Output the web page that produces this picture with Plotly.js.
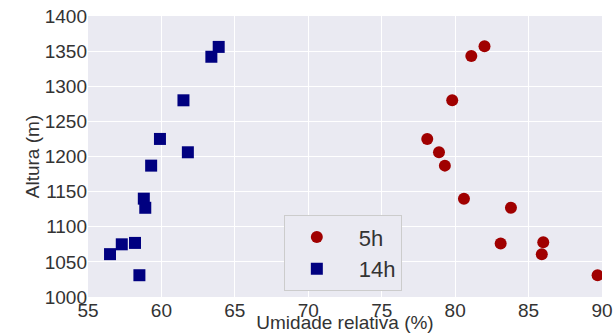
<!DOCTYPE html>
<html>
<head>
<meta charset="utf-8">
<script src="https://cdn.plot.ly/plotly-3.0.1.min.js"></script>
<style>html,body{margin:0;padding:0;background:#fff;}#chart{width:613px;height:333px;}</style>
</head>
<body>
<div id="chart"></div>
<script>
const seriesNames = ["5h", "14h"];
const humidity5h = [82.0, 81.1, 79.8, 78.1, 78.9, 79.3, 80.6, 83.8, 83.1, 86.0, 85.9, 89.7];
const altitude5h = [1357, 1343, 1280, 1225, 1206, 1187, 1140, 1127, 1076, 1078, 1061, 1031];
const humidity14h = [63.9, 63.4, 61.5, 59.9, 61.8, 59.3, 58.8, 58.9, 57.3, 58.2, 56.5, 58.5];
const altitude14h = [1356, 1342, 1280, 1225, 1206, 1187, 1140, 1127, 1075, 1077, 1061, 1031];
const xTicks = [55, 60, 65, 70, 75, 80, 85, 90];
const yTicks = [1000, 1050, 1100, 1150, 1200, 1250, 1300, 1350, 1400];

const font = "Liberation Sans, Arial, sans-serif";
const traces = [
  {x: humidity5h, y: altitude5h, name: seriesNames[0], type: "scatter", mode: "markers",
   marker: {symbol: "circle", size: 12, color: "#a00000", line: {width: 0}}},
  {x: humidity14h, y: altitude14h, name: seriesNames[1], type: "scatter", mode: "markers",
   marker: {symbol: "square", size: 12, color: "#000080", line: {width: 0}}}
];
const layout = {
  width: 613, height: 333,
  margin: {l: 88, r: 11, t: 16, b: 36, pad: 0},
  paper_bgcolor: "#ffffff", plot_bgcolor: "#eaeaf2",
  font: {family: font, color: "#333333", size: 19},
  xaxis: {range: [55, 90], tickvals: xTicks, ticktext: xTicks.map(String),
    showgrid: true, gridcolor: "#ffffff", gridwidth: 1, zeroline: false, showline: false,
    ticks: "", tickfont: {size: 19, color: "#333333"},
    title: {text: "Umidade relativa (%)", font: {size: 19, color: "#333333"}, standoff: 1},
    automargin: false},
  yaxis: {range: [1000, 1400], tickvals: yTicks, ticktext: yTicks.map(String),
    showgrid: true, gridcolor: "#ffffff", gridwidth: 1, zeroline: false, showline: false,
    ticks: "", tickfont: {size: 19, color: "#333333"},
    title: {text: "Altura (m)", font: {size: 19, color: "#333333"}, standoff: 0},
    automargin: false},
  legend: {x: 0.381, y: 0.291, xanchor: "left", yanchor: "top",
    bgcolor: "#eaeaf2", bordercolor: "#cccccc", borderwidth: 1,
    font: {size: 22, color: "#333333"}, itemwidth: 74, indentation: -10},
  showlegend: true
};
Plotly.newPlot("chart", traces, layout, {staticPlot: true, displayModeBar: false});
</script>
</body>
</html>
